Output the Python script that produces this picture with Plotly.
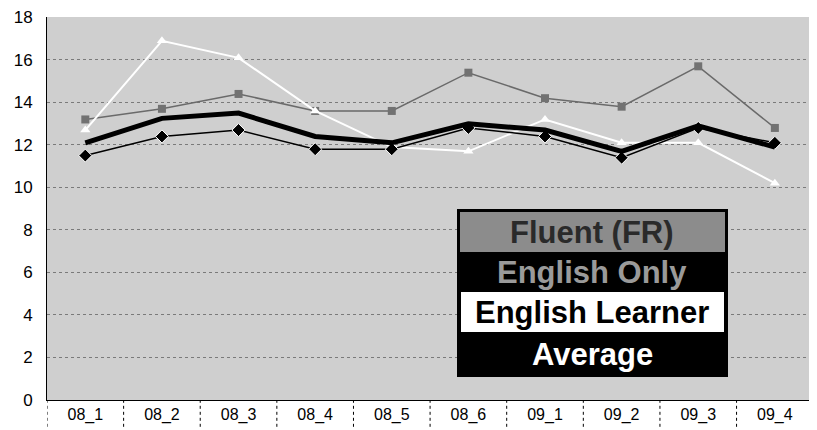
import plotly.graph_objs as go

periods = ['08_1', '08_2', '08_3', '08_4', '08_5', '08_6', '09_1', '09_2', '09_3', '09_4']
fluent_fr = [13.2, 13.7, 14.4, 13.6, 13.6, 15.4, 14.2, 13.8, 15.7, 12.8]
english_only = [11.5, 12.4, 12.7, 11.8, 11.8, 12.8, 12.4, 11.4, 12.8, 12.1]
english_learner = [12.7, 16.9, 16.1, 13.6, 11.9, 11.7, 13.2, 12.1, 12.1, 10.2]
average = [12.1, 13.25, 13.5, 12.4, 12.1, 13.0, 12.7, 11.7, 12.9, 11.9]

y_ticks = list(range(0, 19, 2))

fig = go.Figure()

fig.add_trace(go.Scatter(
    x=periods, y=fluent_fr, mode='lines+markers', name='Fluent (FR)',
    line=dict(color='#6a6a6a', width=1.5),
    marker=dict(symbol='square', size=8, color='#727272'),
))
fig.add_trace(go.Scatter(
    x=periods, y=english_learner, mode='lines+markers', name='English Learner',
    line=dict(color='white', width=2),
    marker=dict(symbol='triangle-up', size=9, color='white'),
))
fig.add_trace(go.Scatter(
    x=periods, y=english_only, mode='lines+markers', name='English Only',
    line=dict(color='black', width=1.5),
    marker=dict(symbol='diamond', size=10, color='black', line=dict(color='white', width=1)),
))
fig.add_trace(go.Scatter(
    x=periods, y=average, mode='lines', name='Average',
    line=dict(color='black', width=5),
))

# category separators below the axis
for i in range(len(periods) + 1):
    fig.add_shape(type='line', xref='x', yref='paper', x0=i - 0.5, x1=i - 0.5,
                  y0=-0.07, y1=0, line=dict(color='black', width=1, dash='dot'))

# page body has an 8px margin, so the figure sits at (8, 8) in the window
OFF = 8
FW, FH = 817 - OFF, 430 - OFF
L, T, B = 47 - OFF, 17 - OFF, 30
W = FW - L
H = FH - T - B
px = lambda v: (v - OFF - L) / W
py = lambda v: (FH - B - (v - OFF)) / H

# custom legend box
fig.add_shape(type='rect', xref='paper', yref='paper', x0=px(457), x1=px(728),
              y0=py(377), y1=py(209), fillcolor='black', line_width=0)
fig.add_shape(type='rect', xref='paper', yref='paper', x0=px(460), x1=px(725),
              y0=py(252), y1=py(212), fillcolor='#8c8c8c', line_width=0)
fig.add_shape(type='rect', xref='paper', yref='paper', x0=px(461), x1=px(724),
              y0=py(332), y1=py(292), fillcolor='white', line_width=0)

legend_rows = [
    ('Fluent (FR)', 232, '#2a2a2a'),
    ('English Only', 272, '#9a9a9a'),
    ('English Learner', 312, 'black'),
    ('Average', 354, 'white'),
]
for text, yc, col in legend_rows:
    fig.add_annotation(xref='paper', yref='paper', x=px(592), y=py(yc),
                       xanchor='center', yanchor='middle',
                       text='<b>%s</b>' % text, showarrow=False,
                       font=dict(family='Arial, Liberation Sans', size=31, color=col))

fig.update_layout(
    width=FW, height=FH,
    margin=dict(l=L, r=0, t=T, b=B, pad=0),
    paper_bgcolor='white',
    plot_bgcolor='#cfcfcf',
    showlegend=False,
    font=dict(family='Arial, Liberation Sans', color='black'),
)
fig.update_xaxes(
    range=[-0.5, 9.55], showgrid=False, showline=True, linecolor='black',
    linewidth=1, ticks='', tickfont=dict(size=16), ticklabelstandoff=0,
)
fig.update_yaxes(
    range=[0, 18.02], tickvals=y_ticks, showgrid=True, gridcolor='#7a7a7a',
    griddash='dot', gridwidth=1, showline=True, linecolor='black', linewidth=1,
    zeroline=False, ticks='', tickfont=dict(size=17), ticklabelstandoff=10,
)

fig.write_html("out.html")
